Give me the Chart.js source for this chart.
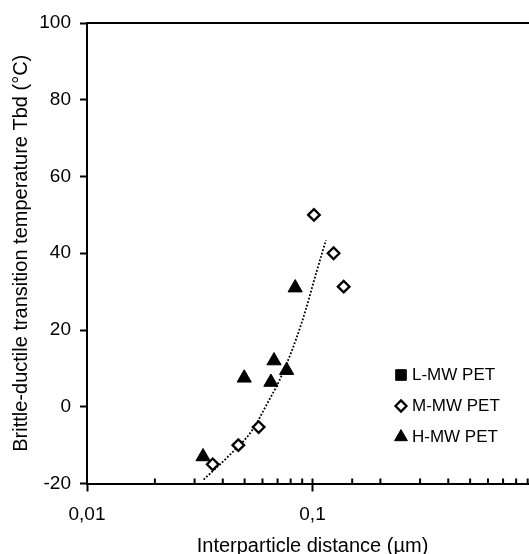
<!DOCTYPE html>
<html>
<head>
<meta charset="utf-8">
<script src="https://cdn.jsdelivr.net/npm/chart.js@4.4.1/dist/chart.umd.min.js"></script>
<style>
  html, body { margin: 0; padding: 0; background: #fff; overflow: hidden; }
  #wrap { width: 560px; height: 580px; }
</style>
</head>
<body>
<div id="wrap"><canvas id="myChart" width="560" height="580"></canvas></div>
<script>
// interparticle distance (µm) vs brittle-ductile transition temperature (°C)
const lmwX = [];
const lmwY = [];
const mmwX = [0.0361, 0.0469, 0.0577, 0.1015, 0.124, 0.1375];
const mmwY = [-15, -10, -5.3, 50, 40, 31.3];
const hmwX = [0.0327, 0.0498, 0.0654, 0.0675, 0.0768, 0.0838];
const hmwY = [-13, 7.5, 6.4, 12, 9.5, 31];

// dotted trend curve
const trendX = [0.0329, 0.0432, 0.0539, 0.0628, 0.0732, 0.0897, 0.1046, 0.1147];
const trendY = [-19, -12.4, -6.2, 0.7, 8.3, 22, 35.5, 43.4];

const xTickValues = [0.01, 0.1, 1];
const xTickLabels = ['0,01', '0,1', '1'];

Chart.defaults.font.family = "'Liberation Sans', Arial, sans-serif";
Chart.defaults.color = '#000';

function toPoints(xs, ys) {
    return xs.map((x, i) => ({ x: x, y: ys[i] }));
}

function majorIndex(v) {
    return xTickValues.findIndex(t => Math.abs(t - v) < t * 1e-6);
}

// top/right frame and the short inward marks on the log axis
const framePlugin = {
    id: 'frame',
    afterDraw(chart) {
        const { ctx, chartArea: a, scales } = chart;
        ctx.save();
        ctx.strokeStyle = '#000';
        ctx.lineWidth = 2;
        ctx.beginPath();
        ctx.moveTo(a.left - 1, a.top);
        ctx.lineTo(a.right, a.top);
        ctx.lineTo(a.right, a.bottom);
        ctx.stroke();
        ctx.beginPath();
        scales.x.ticks.forEach(t => {
            const px = scales.x.getPixelForValue(t.value);
            ctx.moveTo(px, a.bottom);
            ctx.lineTo(px, a.bottom - 5);
        });
        ctx.stroke();
        ctx.restore();
    }
};

// legend drawn inside the plot area
const insideLegend = {
    id: 'insideLegend',
    afterDraw(chart, args, opts) {
        const { ctx, chartArea: a } = chart;
        const x = a.left + opts.x;
        let y = a.top + opts.y;
        ctx.save();
        ctx.font = opts.font;
        ctx.textBaseline = 'middle';
        ctx.textAlign = 'left';
        chart.data.datasets.forEach(ds => {
            if (!ds.legendRadius) return;
            ctx.fillStyle = ds.backgroundColor;
            ctx.strokeStyle = ds.borderColor;
            ctx.lineWidth = ds.borderWidth;
            Chart.helpers.drawPoint(ctx, {
                pointStyle: ds.pointStyle,
                radius: ds.legendRadius,
                borderWidth: ds.borderWidth,
                rotation: 0
            }, x, y);
            ctx.fillStyle = '#000';
            ctx.fillText(ds.label, x + opts.gap, y);
            y += opts.rowHeight;
        });
        ctx.restore();
    }
};

const ctx = document.getElementById('myChart').getContext('2d');
const chart = new Chart(ctx, {
    type: 'scatter',
    data: {
        datasets: [{
            label: 'L-MW PET',
            data: toPoints(lmwX, lmwY),
            pointStyle: 'rect',
            pointRadius: 7.5,
            legendRadius: 7.5,
            backgroundColor: '#000',
            borderColor: '#000',
            borderWidth: 1
        }, {
            label: 'M-MW PET',
            data: toPoints(mmwX, mmwY),
            pointStyle: 'rectRot',
            pointRadius: 5.8,
            legendRadius: 5.5,
            backgroundColor: '#fff',
            borderColor: '#000',
            borderWidth: 2.3
        }, {
            label: 'H-MW PET',
            data: toPoints(hmwX, hmwY),
            pointStyle: 'triangle',
            pointRadius: 8.2,
            legendRadius: 7.4,
            backgroundColor: '#000',
            borderColor: '#000',
            borderWidth: 1
        }, {
            label: 'trend',
            data: toPoints(trendX, trendY),
            showLine: true,
            cubicInterpolationMode: 'monotone',
            borderColor: '#000',
            borderWidth: 1.8,
            borderDash: [1.8, 1.8],
            pointRadius: 0,
            fill: false
        }]
    },
    options: {
        responsive: false,
        animation: false,
        layout: { padding: { left: 0, top: 23, right: 22, bottom: 0 } },
        scales: {
            x: {
                type: 'logarithmic',
                min: 0.01,
                max: 1,
                afterFit: s => { s.height = 96.5; },
                border: { display: true, color: '#000', width: 2 },
                grid: {
                    drawOnChartArea: false,
                    drawTicks: true,
                    tickLength: 8,
                    tickWidth: 2,
                    tickColor: c => (c.tick && majorIndex(c.tick.value) >= 0) ? '#000' : 'rgba(0,0,0,0)'
                },
                ticks: {
                    autoSkip: false,
                    maxRotation: 0,
                    padding: 12,
                    color: '#000',
                    font: { size: 19 },
                    callback: v => {
                        const i = majorIndex(v);
                        return i >= 0 ? xTickLabels[i] : '';
                    }
                },
                title: {
                    display: true,
                    text: 'Interparticle distance (µm)',
                    color: '#000',
                    font: { size: 20 },
                    padding: { top: 6, bottom: 22 }
                }
            },
            y: {
                min: -20,
                max: 100,
                afterFit: s => { s.width = 87; },
                border: { display: true, color: '#000', width: 2 },
                grid: {
                    drawOnChartArea: false,
                    drawTicks: true,
                    tickLength: 7,
                    tickWidth: 2,
                    tickColor: '#000'
                },
                ticks: {
                    stepSize: 20,
                    padding: 9,
                    color: '#000',
                    font: { size: 19 }
                },
                title: {
                    display: true,
                    text: 'Brittle-ductile transition temperature Tbd (°C)',
                    color: '#000',
                    font: { size: 20 },
                    padding: { top: 9, bottom: 0 }
                }
            }
        },
        plugins: {
            legend: { display: false },
            tooltip: { enabled: false },
            insideLegend: {
                x: 314,
                y: 352,
                rowHeight: 31,
                gap: 11,
                font: "17px 'Liberation Sans', Arial, sans-serif"
            }
        }
    },
    plugins: [framePlugin, insideLegend]
});
</script>
</body>
</html>
